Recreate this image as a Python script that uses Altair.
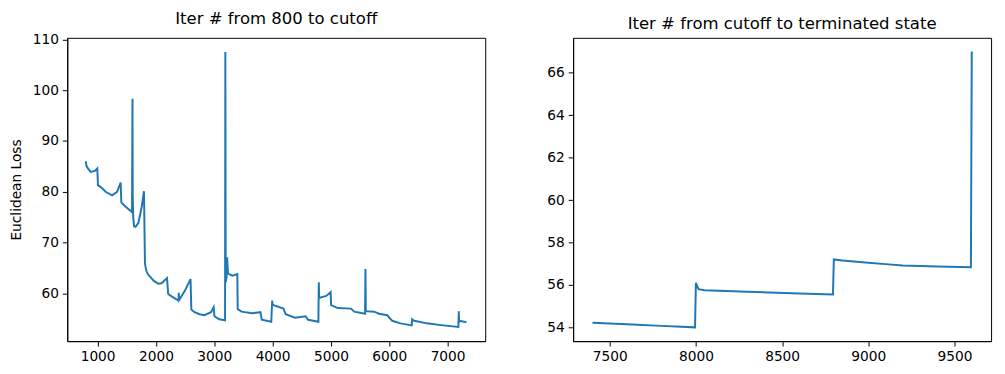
import altair as alt
import pandas as pd

# ---- data ----
left_iter = [800, 805, 840, 881, 954, 995, 1006, 1079, 1136, 1249, 1333, 1395, 1407, 1475,
             1590, 1598, 1602, 1610, 1625, 1650, 1700, 1757, 1795, 1812, 1835, 1860, 1898,
             1960, 2040, 2096, 2190, 2210, 2283, 2385, 2392, 2398, 2410, 2500, 2593, 2607,
             2662, 2750, 2830, 2944, 2990, 3003, 3085, 3185, 3190, 3196, 3210, 3220, 3235,
             3254, 3311, 3395, 3402, 3469, 3649, 3791, 3815, 3977, 3993, 3998, 4017, 4186,
             4225, 4384, 4564, 4610, 4785, 4792, 4798, 4920, 4995, 5003, 5119, 5344, 5401,
             5585, 5592, 5598, 5740, 5825, 5966, 6051, 6192, 6385, 6392, 6429, 6644, 6927,
             7185, 7192, 7197, 7210, 7322]
left_loss = [86.0, 85.2, 84.5, 83.9, 84.1, 84.6, 81.3, 80.7, 80.0, 79.3, 80.0, 81.8, 77.9, 77.1,
             76.0, 98.3, 79.4, 75.0, 73.2, 73.1, 73.9, 77.1, 80.1, 65.8, 64.5, 63.8, 63.3,
             62.5, 61.9, 62.0, 63.0, 59.9, 59.3, 58.6, 60.1, 58.7, 58.9, 60.6, 62.8, 56.8,
             56.3, 55.9, 55.7, 56.3, 57.3, 55.5, 54.9, 54.7, 107.5, 62.2, 63.0, 67.1, 64.0,
             63.8, 63.5, 63.8, 56.9, 56.4, 56.1, 56.3, 54.8, 54.4, 58.6, 57.9, 57.7, 57.0,
             55.9, 55.2, 55.5, 54.8, 54.4, 62.2, 59.1, 59.5, 60.25, 57.7, 57.1, 57.0, 56.4,
             56.0, 64.8, 56.5, 56.4, 56.0, 55.7, 54.6, 54.1, 53.7, 54.9, 54.6, 54.1, 53.7,
             53.4, 56.5, 54.4, 54.6, 54.3]

right_iter = [7400, 7600, 7800, 7995, 8000, 8015, 8050, 8300, 8600, 8795, 8800, 8850, 9000,
              9100, 9200, 9400, 9595, 9600]
right_loss = [54.22, 54.15, 54.07, 54.0, 56.1, 55.8, 55.75, 55.68, 55.6, 55.55, 57.2, 57.15,
              57.05, 56.98, 56.92, 56.87, 56.83, 67.0]

left_title = "Iter # from 800 to cutoff"
right_title = "Iter # from cutoff to terminated state"
y_title = "Euclidean Loss"

left_xticks = [1000, 2000, 3000, 4000, 5000, 6000, 7000]
left_yticks = [60, 70, 80, 90, 100, 110]
right_xticks = [7500, 8000, 8500, 9000, 9500]
right_yticks = [54, 56, 58, 60, 62, 64, 66]

FONT = "DejaVu Sans"
BLUE = "#1f77b4"


def panel(xs, ys, title, xdom, ydom, xticks, yticks, ytitle):
    df = pd.DataFrame({"iter": xs, "loss": ys})
    return alt.Chart(df).mark_line(color=BLUE, strokeWidth=2).encode(
        x=alt.X("iter:Q",
                scale=alt.Scale(domain=xdom, nice=False, zero=False),
                axis=alt.Axis(values=xticks, format="d", title=None)),
        y=alt.Y("loss:Q",
                scale=alt.Scale(domain=ydom, nice=False, zero=False),
                axis=alt.Axis(values=yticks, format="d", title=ytitle)),
    ).properties(width=423, height=307, title=alt.Title(title))


left = panel(left_iter, left_loss, left_title, [480, 7645], [50.6, 110.3],
             left_xticks, left_yticks, y_title)
right = panel(right_iter, right_loss, right_title, [7288, 9712], [53.35, 67.65],
              right_xticks, right_yticks, None)

chart = alt.hconcat(left, right, spacing=60).properties(
    padding={"left": 0, "top": 0, "right": 5, "bottom": 0}
).configure_view(
    stroke="black", strokeWidth=1
).configure_axis(
    domainColor="black", tickColor="black", labelColor="black",
    labelFont=FONT, labelFontSize=13.9, titleFont=FONT, titleFontSize=13.9,
    titleFontWeight="normal", titleColor="black", grid=False,
    tickSize=5, labelPadding=4, titlePadding=9, domainWidth=1, tickWidth=1
).configure_title(
    font=FONT, fontSize=16.7, fontWeight="normal", color="black", offset=5
)

chart.save("out.html", embed_options={"renderer": "svg", "actions": False})
